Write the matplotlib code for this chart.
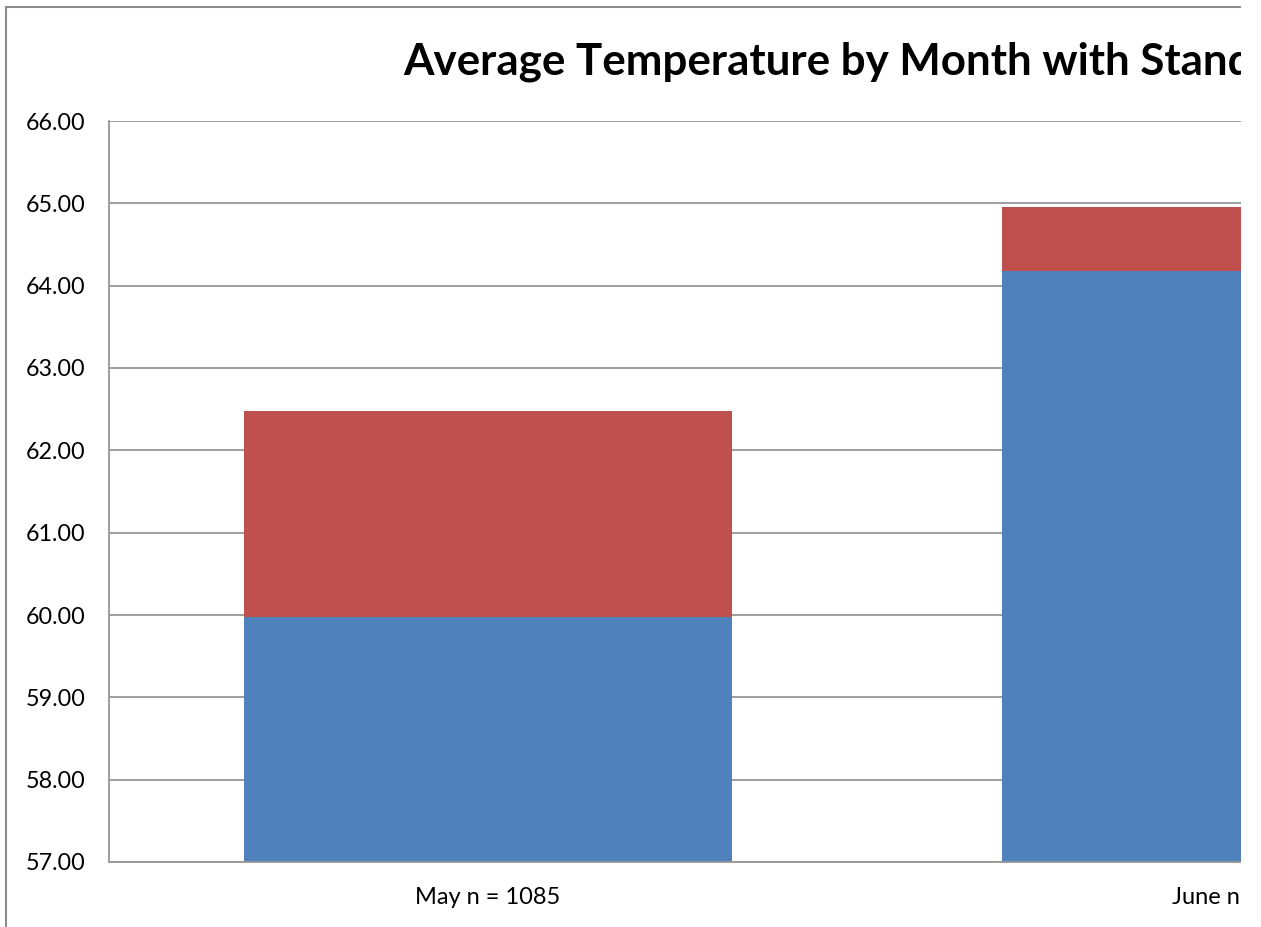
import matplotlib.pyplot as plt
from matplotlib.patches import Rectangle

## data
months = ['May n = 1085', 'June n = 1085']
lower = [59.98, 64.18]      # blue part (top of blue)
spread = [2.50, 0.77]       # red part stacked on top
yticks = [57, 58, 59, 60, 61, 62, 63, 64, 65, 66]

W, H = 1261, 927
plt.rcParams['font.family'] = ['Lato', 'DejaVu Sans']

fig = plt.figure(figsize=(W/100, H/100), dpi=100)

## plot area: left 109px, top 121px, bottom 862px, two categories of 758px each
ax = fig.add_axes([109/W, (H-862)/H, 1516/W, (862-121)/H])
x = list(range(len(months)))
base = yticks[0]
ax.bar(x, [v-base for v in lower], bottom=base, width=0.645, color='#4f81bd', zorder=2)
ax.bar(x, spread, bottom=lower, width=0.645, color='#c0504d', zorder=2)

ax.set_xlim(-0.5, len(months)-0.5)
ax.set_ylim(yticks[0], yticks[-1])
ax.set_yticks(yticks)
ax.set_yticklabels(['%.2f' % t for t in yticks], fontsize=16.8)
ax.set_xticks(x)
ax.set_xticklabels(months, fontsize=17)
ax.tick_params(length=0)
ax.tick_params(axis='y', pad=17)
ax.tick_params(axis='x', pad=18)
ax.yaxis.grid(True, color='#969696', lw=1.3, zorder=0)
ax.set_axisbelow(True)
for s in ['top', 'right']:
    ax.spines[s].set_visible(False)
for s in ['left', 'bottom']:
    ax.spines[s].set_color('#969696')
    ax.spines[s].set_linewidth(1.3)

## chart border
fig.patches.append(Rectangle((6/W, -0.1), 1.2, 1.1 - 7/H, transform=fig.transFigure,
                             fill=False, ec='#8c8c8c', lw=1.5, zorder=1))

fig.text(403/W, 1-62/H, 'Average Temperature by Month with Stand', fontsize=31.6,
         fontweight='bold', ha='left', va='center', zorder=3)

## picture is cut at 1241px
fig.patches.append(Rectangle((1241/W, 0), 1, 1, transform=fig.transFigure,
                             fc='white', ec='none', zorder=10))

fig.savefig('out.png', dpi=100)
